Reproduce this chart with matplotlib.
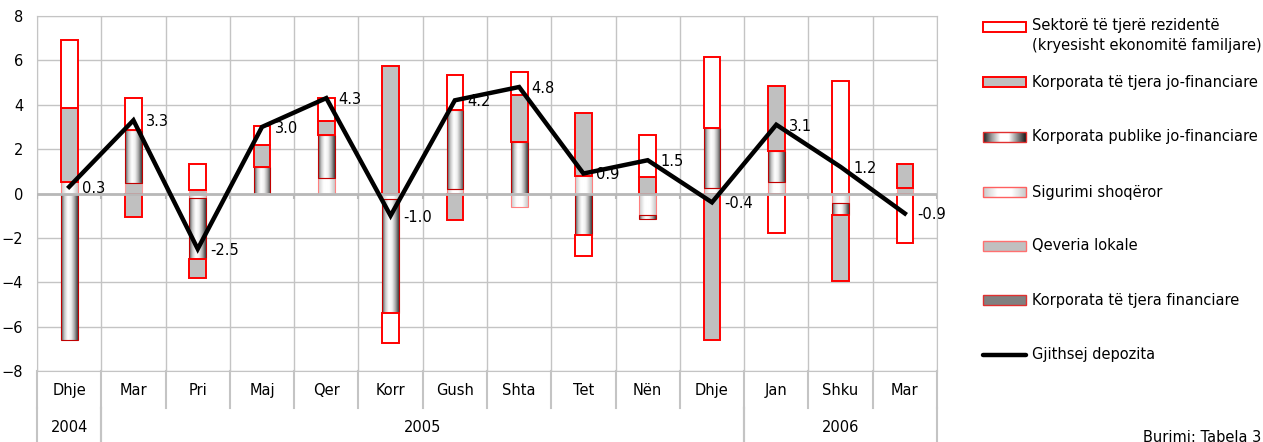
import numpy as np
import matplotlib.pyplot as plt
from matplotlib.colors import LinearSegmentedColormap
from matplotlib.patches import Rectangle
from matplotlib.transforms import blended_transform_factory

# Data (percentage points)
months = ["Dhje", "Mar", "Pri", "Maj", "Qer", "Korr", "Gush", "Shta", "Tet", "Nën", "Dhje", "Jan", "Shku", "Mar"]
years = ["2004", "2005", "2006"]
year_spans = [(0, 0), (1, 10), (11, 13)]

korp_financiare = [0, 0, 0, 0, 0, 0, 0, 0, 0, 0, 0, 0, 0, 0]
qeveria_lokale = [0, 0.48, 0.18, 0, 0, 0, 0, 0, 0, 0, 0, 0, 0, 0.25]
sigurimi = [0.5, 0, -0.22, 0, 0.72, -0.25, 0.22, -0.63, 0.78, -0.98, 0.27, 0.5, -0.45, 0]
korp_publike = [-6.6, 2.4, -2.71, 1.2, 1.91, -5.15, 3.53, 2.33, -1.88, -0.19, 2.66, 1.42, -0.5, 0]
korp_jofin = [3.37, -1.05, -0.9, 0.98, 0.64, 5.74, -1.2, 2.13, 2.85, 0.75, -6.6, 2.91, -2.98, 1.07]
sektore = [3.07, 1.44, 1.17, 0.85, 1.05, -1.33, 1.6, 1.02, -0.93, 1.88, 3.2, -1.8, 5.07, -2.25]
gjithsej = [0.3, 3.3, -2.5, 3.0, 4.3, -1.0, 4.2, 4.8, 0.9, 1.5, -0.4, 3.1, 1.2, -0.9]

plt.rcParams['font.family'] = ['DejaVu Sans']
plt.rcParams['font.size'] = 10

RED = '#ff0000'
GRID = '#c4c4c4'
cmap_pub = LinearSegmentedColormap.from_list('pub', ['#4a4a4a', '#c8c8c8', '#ffffff', '#f0f0f0', '#a8a8a8', '#3a3a3a'])
cmap_sig = LinearSegmentedColormap.from_list('sig', ['#c8c8c8', '#ffffff', '#ffffff', '#c8c8c8'])
cmap_pub_leg = LinearSegmentedColormap.from_list('publeg', ['#1a1a1a', '#9a9a9a', '#ffffff', '#ffffff', '#8a8a8a', '#1a1a1a'])
grad = np.linspace(0, 1, 128).reshape(1, -1)

# (values, face, gradient cmap, edge, lw) in stacking order from the axis out
series = [
    (korp_financiare, '#808080', None, '#e03030', 0.8),
    (qeveria_lokale, '#c0c0c0', None, '#ff9999', 0.8),
    (sigurimi, 'none', cmap_sig, '#ff8080', 0.8),
    (korp_publike, 'none', cmap_pub, '#c00000', 0.8),
    (korp_jofin, '#c0c0c0', None, RED, 1.4),
    (sektore, 'white', None, RED, 1.4),
]

fig = plt.figure(figsize=(12.63, 4.42), dpi=100)
ax = fig.add_axes([37 / 1263, 1 - 371 / 442, 900 / 1263, 355 / 442])

x = np.arange(len(months))
w = 0.26
pos_base = np.zeros(len(months))
neg_base = np.zeros(len(months))
for vals, face, cmap, edge, lw in series:
    vals = np.array(vals, dtype=float)
    bottom = np.where(vals >= 0, pos_base, neg_base)
    nz = vals != 0
    if nz.any():
        bars = ax.bar(x[nz], vals[nz], w, bottom=bottom[nz], facecolor=face,
                      edgecolor=edge, linewidth=lw, zorder=2)
        if cmap is not None:
            for b in bars:
                bb = b.get_bbox()
                im = ax.imshow(grad, cmap=cmap, aspect='auto', interpolation='bicubic',
                               extent=[bb.x0, bb.x1, bb.y0, bb.y1], zorder=1.9)
                im.set_clip_path(b)
    pos_base += np.where(vals > 0, vals, 0)
    neg_base += np.where(vals < 0, vals, 0)

# total deposits line
ax.plot(x, gjithsej, color='black', lw=3.2, zorder=5, solid_joinstyle='miter')
for xi, v in zip(x, gjithsej):
    ax.annotate(f"{v:.1f}", (xi, v), xytext=(9, -1), textcoords='offset points',
                ha='left', va='center', fontsize=10.5, zorder=6)

ax.axhline(0, color='#b8b8b8', lw=2, zorder=3)
ax.vlines(np.arange(-0.5, len(months)), -0.25, 0, color='#b8b8b8', lw=1.5, zorder=3)

ax.set_xlim(-0.5, len(months) - 0.5)
ax.set_ylim(-8, 8)
ax.set_yticks(np.arange(-8, 9, 2))
ax.set_xticks([])
ax.set_xticks(np.arange(-0.5, len(months)), minor=True)
ax.tick_params(axis='x', which='both', length=0, labelbottom=False)
ax.tick_params(axis='y', length=0, pad=10, labelsize=10.5)
ax.grid(True, axis='y', color=GRID, lw=1, zorder=0)
ax.grid(True, axis='x', which='minor', color=GRID, lw=1, zorder=0)
for s in ax.spines.values():
    s.set_color(GRID)

# category label rows under the axis
tr = blended_transform_factory(ax.transData, ax.transAxes)
row1 = -37 / 355
row2 = -72 / 355
for i, m in enumerate(months):
    ax.text(i, row1 / 2 - 0.002, m, transform=tr, ha='center', va='center', fontsize=10.5)
for b in np.arange(-0.5, len(months)):
    ax.plot([b, b], [0, row1], transform=tr, color=GRID, lw=1.5, clip_on=False)
for (a, e), yr in zip(year_spans, years):
    ax.text((a + e) / 2, (row1 + row2) / 2 - 0.005, yr, transform=tr, ha='center', va='center', fontsize=10.5)
    for b in (a - 0.5, e + 0.5):
        ax.plot([b, b], [row1, row2], transform=tr, color=GRID, lw=1.5, clip_on=False)

# legend drawn in pixel space on the right
lg = fig.add_axes([960 / 1263, 0, 303 / 1263, 1])
lg.set_xlim(960, 1263)
lg.set_ylim(442, 0)
lg.axis('off')
sx0, sx1, sh = 983, 1026, 10
entries = [
    (27, "Sektorë të tjerë rezidentë\n(kryesisht ekonomitë familjare)", 'white', None, RED, 1.4),
    (82, "Korporata të tjera jo-financiare", '#c0c0c0', None, RED, 1.4),
    (137, "Korporata publike jo-financiare", 'none', cmap_pub_leg, '#e03030', 1.0),
    (192, "Sigurimi shoqëror", 'none', cmap_sig, '#ff6060', 1.0),
    (246, "Qeveria lokale", '#c0c0c0', None, '#ff7070', 1.0),
    (300, "Korporata të tjera financiare", '#808080', None, '#e03030', 1.0),
]
for yc, label, face, cmap, edge, lw in entries:
    r = Rectangle((sx0, yc - sh / 2), sx1 - sx0, sh, facecolor=face, edgecolor=edge, lw=lw, zorder=3)
    lg.add_patch(r)
    if cmap is not None:
        lg.imshow(grad, cmap=cmap, aspect='auto', extent=[sx0, sx1, yc + sh / 2, yc - sh / 2], zorder=2)
    va = 'top' if '\n' in label else 'center'
    lg.text(1032, yc - 9 if '\n' in label else yc, label, ha='left', va=va, fontsize=10.5, linespacing=1.45)
lg.plot([sx0, sx1], [355, 355], color='black', lw=3.2, solid_capstyle='round')
lg.text(1032, 355, "Gjithsej depozita", ha='left', va='center', fontsize=10.5)
lg.set_xlim(960, 1263)
lg.set_ylim(442, 0)

fig.text(0.999, 1 - 437 / 442, "Burimi: Tabela 3", ha='right', va='center', fontsize=10.5)

fig.savefig('out.png', dpi=100)
